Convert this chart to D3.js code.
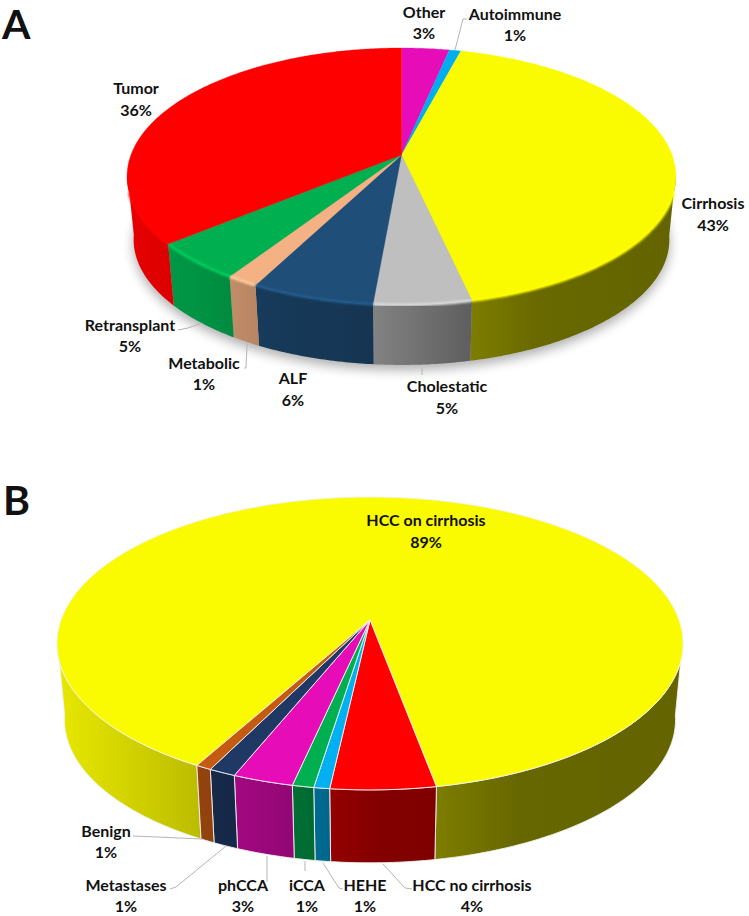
<!DOCTYPE html>
<html>

<head>
    <meta charset="utf-8" />
    <script src="https://cdnjs.cloudflare.com/ajax/libs/d3/7.8.5/d3.min.js"></script>
    <style>
        html, body { margin: 0; padding: 0; background: #fff; }
        svg { display: block; }
        text { font-family: Lato, "Open Sans", sans-serif; font-weight: 700; fill: #111; }
    </style>
</head>

<body>
    <script>

        /*
         * data: panel A, all transplants by indication
         * values are the slice shares,
         * percents are the printed (rounded) labels
         */
        var categoriesA = ["Other", "Autoimmune", "Cirrhosis", "Cholestatic", "ALF", "Metabolic", "Retransplant", "Tumor"];
        var valuesA = [3.3, 0.8, 42.4, 4.9, 6.2, 1.6, 4.8, 36];
        var percentsA = ["3%", "1%", "43%", "5%", "6%", "1%", "5%", "36%"];
        var coloursA = ["#e60cb8", "#00aeef", "#fbfb00", "#bfbfbf", "#1f4e79", "#f4b183", "#00b050", "#ff0000"];

        // data: panel B, tumor breakdown
        var categoriesB = ["HCC on cirrhosis", "HCC no cirrhosis", "HEHE", "iCCA", "phCCA", "Metastases", "Benign"];
        var valuesB = [89.1, 4.65, 0.7, 0.95, 2.7, 1.2, 0.7];
        var percentsB = ["89%", "4%", "1%", "1%", "3%", "1%", "1%"];
        var coloursB = ["#fbfb00", "#ff0000", "#00b0f0", "#00b050", "#e60cb8", "#1f3864", "#c55a11"];

        // layout: label centres, one row per category (x, name line, percent line)
        var labelsA = [[424, 12, 33], [515, 14, 35], [713, 203, 225], [447, 386, 408],
                       [293, 378, 400], [204, 363, 384], [130, 325, 346], [136, 88, 110]];
        var labelsB = [[426, 520, 542], [472, 885, 906], [365, 885, 906], [307, 885, 906],
                       [243, 885, 906], [126, 885, 906], [106, 831, 852]];

        // layout: leader lines
        var leadersA = [
            [[455, 50], [463, 19], [467, 19]],
            [[178, 330], [188, 328], [202, 323]],
            [[244, 368], [246, 368], [247, 344]],
            [[422, 368], [422, 375]]
        ];
        var leadersB = [
            [[133, 836], [157, 837], [202, 839]],
            [[170, 889], [176, 887], [226, 846]],
            [[267, 882], [267, 856]],
            [[305, 871], [305, 861]],
            [[343, 889], [339, 888], [323, 863]],
            [[412, 889], [405, 888], [383, 864]]
        ];

        var width = 749, height = 916, tau = Math.PI * 2;

        var svg = d3.select("body").append("svg")
            .attr("width", width)
            .attr("height", height);

        var defs = svg.append("defs");

        // soft blur for the shadow and the bevel on panel A
        defs.append("filter").attr("id", "shadowBlur")
            .attr("x", "-10%").attr("y", "-10%").attr("width", "120%").attr("height", "120%")
            .append("feGaussianBlur").attr("stdDeviation", 6);
        defs.append("filter").attr("id", "rimBlur")
            .attr("x", "-5%").attr("y", "-20%").attr("width", "110%").attr("height", "140%")
            .append("feGaussianBlur").attr("stdDeviation", 1.1);

        /*
         * draw one pie
         * - the flat disc is mapped to the page with a perspective divide,
         *   so the apex sits above the middle of the ellipse like the original
         */
        function drawPie(id, values, colours, geo) {

            var xScale = d3.scaleLinear().domain([-1, 1]).range([geo.cx - geo.rx, geo.cx + geo.rx]);
            var yScale = d3.scaleLinear().domain([-1, 1]).range([geo.cy - geo.ry, geo.cy + geo.ry]);

            function topPoint(a) {
                var u = Math.sin(a), v = -Math.cos(a), w = 1 - geo.k * v;
                return [xScale(u / w), yScale(v / w)];
            }

            function bottomPoint(a) {
                var p = topPoint(a);
                return [
                    geo.cx + (p[0] - geo.cx) * geo.shrink,
                    geo.cy + geo.depth + (p[1] - geo.cy) * geo.shrink
                ];
            }

            function samples(a0, a1) {
                var list = d3.range(a0, a1, 0.01);
                list.push(a1);
                return list;
            }

            // pieces of a slice lower than the given depth on the disc
            function frontRuns(a0, a1, limit) {
                var runs = [], run = null;
                samples(a0, a1).forEach(function (a) {
                    if (-Math.cos(a) >= limit) {
                        if (!run) { run = []; runs.push(run); }
                        run.push(a);
                    } else {
                        run = null;
                    }
                });
                return runs.filter(r => r.length > 1);
            }

            var line = d3.line();

            var slices = d3.pie().sort(null).value(d => d)
                .startAngle(geo.start)
                .endAngle(geo.start + tau)(values);

            var group = svg.append("g").attr("class", "pie" + id);

            // shadow under panel A
            if (geo.shadow) {
                group.append("path")
                    .attr("d", line(samples(0, tau).map(bottomPoint)) + "Z")
                    .attr("transform", "translate(0,5)")
                    .attr("fill", "#000")
                    .attr("opacity", geo.shadow)
                    .attr("filter", "url(#shadowBlur)");
            }

            // walls, each with its own left to right gradient
            slices.forEach(function (s, i) {
                var gradId = "wall" + id + i;
                var grad = defs.append("linearGradient").attr("id", gradId)
                    .attr("gradientUnits", "userSpaceOnUse")
                    .attr("x1", xScale(-1)).attr("x2", xScale(1))
                    .attr("y1", 0).attr("y2", 0);
                geo.shade.forEach(function (d) {
                    var c = d3.interpolateRgb("#000", colours[i])(d[1]);
                    grad.append("stop").attr("offset", d[0]).attr("stop-color", c);
                });

                var d = frontRuns(s.startAngle, s.endAngle, geo.k - 0.04).map(function (run) {
                    var pts = run.map(topPoint).concat(run.slice().reverse().map(bottomPoint));
                    return line(pts) + "Z";
                }).join("");

                group.append("path")
                    .attr("d", d)
                    .attr("fill", "url(#" + gradId + ")")
                    .attr("stroke", geo.seam || "none")
                    .attr("stroke-width", geo.seam ? 0.9 : 0);
            });

            // top face
            slices.forEach(function (s, i) {
                var pts = [[geo.cx, geo.cy]].concat(samples(s.startAngle, s.endAngle).map(topPoint));
                group.append("path")
                    .attr("d", line(pts) + "Z")
                    .attr("fill", colours[i])
                    .attr("stroke", geo.seam || colours[i])
                    .attr("stroke-width", geo.seam ? 0.9 : 0.3);
            });

            // bevel along the front rim of panel A, starts past the side of the disc
            if (geo.bevel) {
                slices.forEach(function (s, i) {
                    frontRuns(s.startAngle, s.endAngle, geo.k + 0.12).forEach(function (run) {
                        group.append("path")
                            .attr("d", line(run.map(topPoint)))
                            .attr("fill", "none")
                            .attr("stroke", d3.rgb(colours[i]).brighter(0.45))
                            .attr("stroke-width", 2.6)
                            .attr("filter", "url(#rimBlur)");
                    });
                });
            }
        }

        // two line labels, name on top and percent below
        function drawLabels(names, percents, places) {
            var g = svg.append("g").attr("font-size", 16).attr("text-anchor", "middle");
            names.forEach(function (name, i) {
                g.append("text").attr("x", places[i][0]).attr("y", places[i][1])
                    .attr("dy", "0.35em").text(name);
                g.append("text").attr("x", places[i][0]).attr("y", places[i][2])
                    .attr("dy", "0.35em").text(percents[i]);
            });
        }

        function drawLeaders(list) {
            svg.append("g").selectAll("path").data(list).join("path")
                .attr("d", d3.line())
                .attr("fill", "none")
                .attr("stroke", "#b5b5b5")
                .attr("stroke-width", 1);
        }

        drawPie("A", valuesA, coloursA, {
            cx: 401.5, cy: 155, rx: 270.6, ry: 124.9, k: 0.167,
            depth: 63.6, shrink: 0.976, start: 0,
            shade: [[0, 0.9], [0.15, 0.82], [0.25, 0.74], [0.45, 0.68], [0.62, 0.5], [0.75, 0.42], [1, 0.4]],
            shadow: 0.32, bevel: true
        });

        drawPie("B", valuesB, coloursB, {
            cx: 370, cy: 620, rx: 309, ry: 142.7, k: 0.16,
            depth: 77, shrink: 0.976, start: -0.42 * tau,
            shade: [[0, 0.92], [0.21, 0.76], [0.39, 0.62], [0.52, 0.51], [0.6, 0.5], [0.74, 0.41], [1, 0.4]],
            seam: "#f2f2f2"
        });

        drawLeaders(leadersA);
        drawLeaders(leadersB);

        drawLabels(categoriesA, percentsA, labelsA);
        drawLabels(categoriesB, percentsB, labelsB);

        // panel letters
        svg.append("text").attr("x", 2).attr("y", 39).attr("font-size", 41).text("A");
        svg.append("text").attr("x", 3).attr("y", 515).attr("font-size", 41).text("B");

    </script>
</body>

</html>
